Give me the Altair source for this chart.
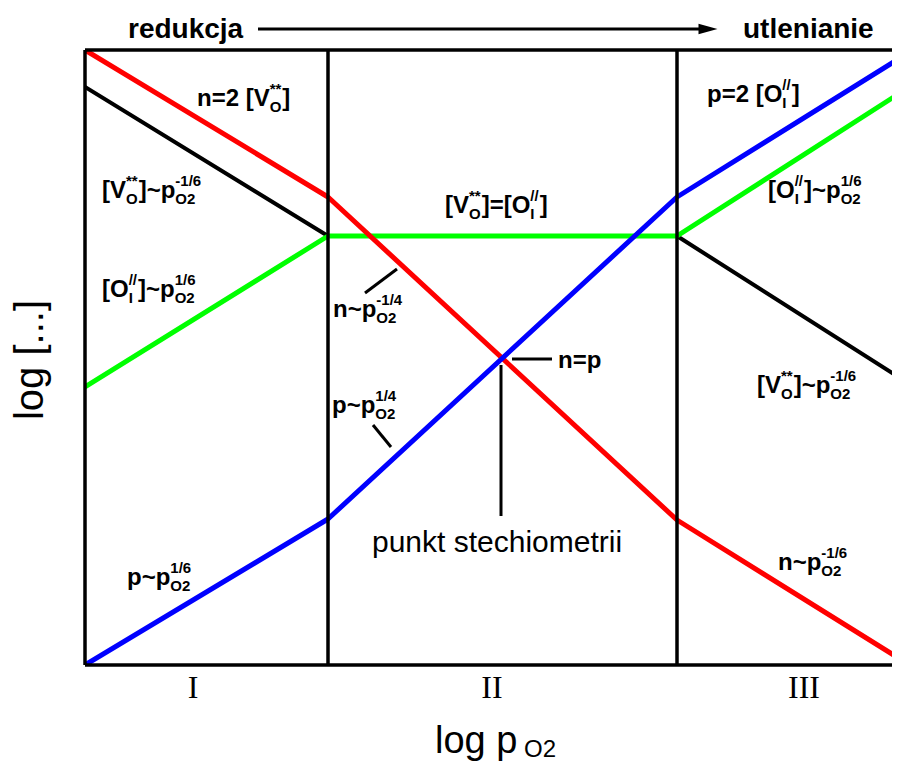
import altair as alt
import pandas as pd

# ---------------- data (arbitrary log units) ----------------
x_nodes = [0.0, 24.3, 59.2, 81.5]          # log pO2 at plot start, region borders, plot end
y_n = [61.5, 46.8, 14.5, 0.6]              # electrons n (red)
y_p = [0.0, 14.6, 46.8, 60.7]              # holes p (blue)
y_Oi = [27.8, 42.9, 42.9, 57.2]            # [O_i''] (green)
y_VO = [57.8, 42.9, 42.9, 28.7]            # [V_O**] (black)
region_bounds = [24.3, 59.2]
region_labels = ["I", "II", "III"]
region_centers = [10.8, 40.7, 71.9]
X_DOMAIN = [0, 80.7]
Y_DOMAIN = [0, 61.5]

# ---------------- helpers for annotation placement ----------------
PX = 10.0
X0, Y0 = 85, 665


def dx(px):
    return (px - X0) / PX


def dy(py):
    return (Y0 - py) / PX


BOLD_W = {"n": .611, "=": .584, "2": .556, " ": .278, "[": .333, "V": .667, "]": .333,
          "*": .389, "O": .778, "/": .278, "I": .278, "~": .584, "p": .611, "-": .333,
          "1": .556, "4": .556, "6": .556}


def tw(s, size):
    return sum(BOLD_W.get(c, 0.6) for c in s) * size


def rich(x, y, parts, size=24, sub=15, sup_off=-12, sub_off=6):
    rows = []
    cx = x
    for p in parts:
        if isinstance(p, str):
            rows.append(dict(x=cx, y=y, t=p, fs=size))
            cx += tw(p, size)
        else:
            sp, sb = p
            if sp:
                rows.append(dict(x=cx, y=y + sup_off, t=sp, fs=sub))
            if sb:
                rows.append(dict(x=cx, y=y + sub_off, t=sb, fs=sub))
            cx += max(tw(sp, sub), tw(sb, sub)) + 1
    return rows


label_rows = []
label_rows += rich(197, 106, ["n=2 [V", ("**", "O"), "]"])
label_rows += rich(102, 198, ["[V", ("**", "O"), "]~p", ("-1/6", "O2")])
label_rows += rich(102, 297, ["[O", ("//", "I"), "]~p", ("1/6", "O2")])
label_rows += rich(445, 213, ["[V", ("**", "O"), "]=[O", ("//", "I"), "]"])
label_rows += rich(333, 317, ["n~p", ("-1/4", "O2")])
label_rows += rich(558, 368, ["n=p"])
label_rows += rich(707, 102, ["p=2 [O", ("//", "I"), "]"])
label_rows += rich(768, 198, ["[O", ("//", "I"), "]~p", ("1/6", "O2")])
label_rows += rich(757, 393, ["[V", ("**", "O"), "]~p", ("-1/6", "O2")])
label_rows += rich(778, 570, ["n~p", ("-1/6", "O2")])
label_rows += rich(127, 585, ["p~p", ("1/6", "O2")])
label_rows += rich(332, 413, ["p~p", ("1/4", "O2")])
label_rows += [dict(x=128, y=37.5, t="redukcja", fs=28),
               dict(x=743, y=37.5, t="utlenianie", fs=28)]

reg_rows = [dict(x=c, y=dy(698), t=t, fs=32) for c, t in zip(region_centers, region_labels)]

plain_rows = [dict(x=372, y=552, t="punkt stechiometrii", fs=30),
              dict(x=435, y=753, t="log p", fs=38),
              dict(x=524, y=757, t="O2", fs=24)]
ytitle_rows = [dict(x=43, y=360, t="log [...]", fs=40)]


def to_data(rows):
    return pd.DataFrame([dict(x=dx(r["x"]), y=dy(r["y"]), t=r["t"], fs=r["fs"]) for r in rows])


# ---------------- encodings ----------------
XS = alt.Scale(domain=X_DOMAIN, nice=False, zero=False)
YS = alt.Scale(domain=Y_DOMAIN, nice=False, zero=False)


def X(f="x"):
    return alt.X(f"{f}:Q", scale=XS, axis=None)


def Y(f="y"):
    return alt.Y(f"{f}:Q", scale=YS, axis=None)


def line_layer(ys, color, width):
    df = pd.DataFrame({"x": x_nodes, "y": ys, "o": range(len(ys))})
    return alt.Chart(df).mark_line(color=color, strokeWidth=width, clip=True,
                                   strokeJoin="round").encode(
        x=X(), y=Y(), order="o:Q")


def seg_layer(segs, width):
    df = pd.DataFrame(segs, columns=["x", "y", "x2", "y2"])
    return alt.Chart(df).mark_rule(color="black", strokeWidth=width).encode(
        x=X(), y=Y(), x2=alt.X2("x2:Q"), y2=alt.Y2("y2:Q"))


def text_layer(df, **kw):
    return alt.Chart(df).mark_text(color="black", baseline="alphabetic", **kw).encode(
        x=X(), y=Y(), text="t:N", size=alt.Size("fs:Q", scale=None, legend=None))


# frame and region borders
frame = [(X_DOMAIN[0], Y_DOMAIN[1], X_DOMAIN[1], Y_DOMAIN[1]),
         (X_DOMAIN[0], Y_DOMAIN[0], X_DOMAIN[1], Y_DOMAIN[0]),
         (X_DOMAIN[0], Y_DOMAIN[0], X_DOMAIN[0], Y_DOMAIN[1])]
frame += [(b, Y_DOMAIN[0], b, Y_DOMAIN[1]) for b in region_bounds]

# leader lines (pixel readings converted to data units)
leaders_px = [(365, 293, 397, 269), (512, 359, 552, 359), (501, 365, 501, 516),
              (373, 425, 391, 447), (258, 29, 700, 29)]
leaders = [(dx(a), dy(b), dx(c), dy(d)) for a, b, c, d in leaders_px]

arrow_df = pd.DataFrame({"x": [dx(708)], "y": [dy(29)]})
arrow = alt.Chart(arrow_df).mark_point(shape="M-1,-0.55L1,0L-1,0.55Z", filled=True,
                                       color="black", opacity=1, size=361).encode(x=X(), y=Y())

chart = alt.layer(
    line_layer(y_VO, "black", 4),
    line_layer(y_Oi, "#00ff00", 5),
    line_layer(y_n, "#ff0000", 5),
    line_layer(y_p, "#0000ff", 5),
    seg_layer(frame, 3.5),
    seg_layer(leaders, 3),
    arrow,
    text_layer(to_data(label_rows), font="Liberation Sans", fontWeight="bold", align="left"),
    text_layer(to_data(plain_rows), font="Liberation Sans", align="left"),
    text_layer(pd.DataFrame(reg_rows), font="Liberation Serif", align="center"),
    text_layer(to_data(ytitle_rows), font="Liberation Sans", align="center", angle=270),
).properties(
    width=807, height=615,
    autosize=alt.AutoSizeParams(type="none"),
    padding={"left": 77, "top": 42, "right": 0, "bottom": 100},
).configure_view(strokeWidth=0)

chart.save("out.html", embed_options={"renderer": "svg", "actions": False})
